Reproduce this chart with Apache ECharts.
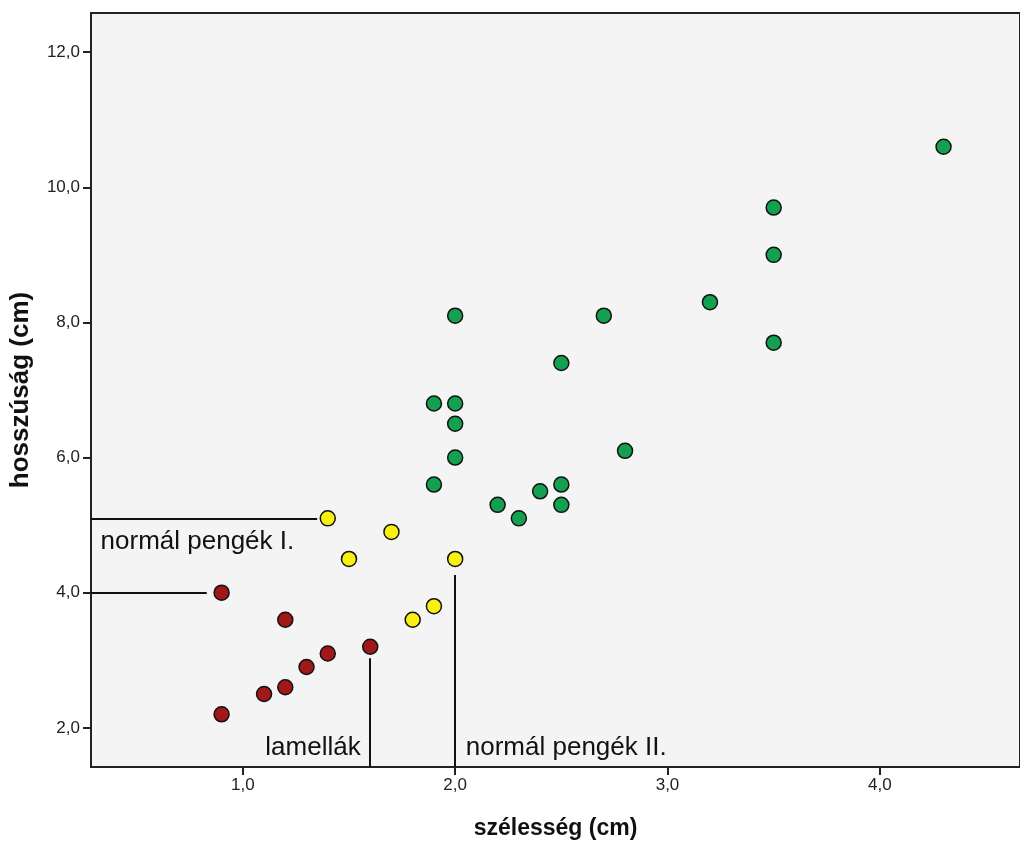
<!DOCTYPE html>
<html>
<head>
<meta charset="utf-8">
<script src="https://cdn.jsdelivr.net/npm/echarts@6/dist/echarts.min.js"></script>
<style>
  html, body { margin: 0; padding: 0; background: #fff; }
  #chart { width: 1020px; height: 846px; }
</style>
</head>
<body>
<div id="chart"></div>
<script>
// lamellák (red)
var lamellak = [[0.9, 4.0], [1.2, 3.6], [1.6, 3.2], [1.4, 3.1], [1.3, 2.9], [1.2, 2.6], [1.1, 2.5], [0.9, 2.2]];
// normál pengék I. (yellow)
var pengekI = [[1.4, 5.1], [1.7, 4.9], [1.5, 4.5], [2.0, 4.5], [1.9, 3.8], [1.8, 3.6]];
// normál pengék II. (green)
var pengekII = [[1.9, 5.6], [2.0, 8.1], [1.9, 6.8], [2.0, 6.8], [2.0, 6.5], [2.0, 6.0], [2.2, 5.3], [2.3, 5.1],
    [2.4, 5.5], [2.5, 5.6], [2.5, 5.3], [2.5, 7.4], [2.7, 8.1], [2.8, 6.1], [3.2, 8.3], [3.5, 9.7],
    [3.5, 9.0], [3.5, 7.7], [4.3, 10.6]];

var xTicks = [1, 2, 3, 4];
var yTicks = [2, 4, 6, 8, 10, 12];
var xMin = 0.285, xMax = 4.66;
var yMin = 1.42, yMax = 12.58;

// annotation leader lines: [from, to]
var leaderLines = [
    [[xMin, 5.1], [1.35, 5.1]],
    [[xMin, 4.0], [0.83, 4.0]],
    [[1.6, yMin], [1.6, 3.03]],
    [[2.0, yMin], [2.0, 4.26]]
];
// annotation texts: [x, y, text, align]
var notes = [
    [0.33, 4.75, 'normál pengék I.', 'left'],
    [1.555, 1.7, 'lamellák', 'right'],
    [2.05, 1.7, 'normál pengék II.', 'left']
];

var fmt = function(v) { return v.toFixed(1).replace('.', ','); };
var font = 'Liberation Sans, Arial, sans-serif';

function dots(data, color) {
    return {
        type: 'scatter',
        data: data,
        symbolSize: 15,
        itemStyle: { color: color, borderColor: '#111', borderWidth: 1.5, opacity: 1 },
        z: 3
    };
}

var myChart = echarts.init(document.getElementById('chart'));
myChart.setOption({
    animation: false,
    grid: {
        left: 90, top: 13, right: -3, bottom: 79,
        show: true,
        backgroundColor: '#f4f4f4',
        borderColor: '#222',
        borderWidth: 2
    },
    xAxis: {
        type: 'value',
        min: xMin, max: xMax,
        name: 'szélesség (cm)',
        nameLocation: 'middle',
        nameGap: 50,
        nameTextStyle: { fontFamily: font, fontSize: 23, fontWeight: 'bold', color: '#111' },
        axisLine: { lineStyle: { color: '#222', width: 2 } },
        axisTick: { show: true, customValues: xTicks, length: 8, lineStyle: { color: '#222', width: 2 } },
        axisLabel: { customValues: xTicks, formatter: fmt, margin: 10, fontFamily: font, fontSize: 17, color: '#222' },
        splitLine: { show: false }
    },
    yAxis: {
        type: 'value',
        min: yMin, max: yMax,
        name: 'hosszúság (cm)',
        nameLocation: 'middle',
        nameGap: 57,
        nameTextStyle: { fontFamily: font, fontSize: 26, fontWeight: 'bold', color: '#111' },
        axisLine: { show: true, lineStyle: { color: '#222', width: 2 } },
        axisTick: { show: true, customValues: yTicks, length: 8, lineStyle: { color: '#222', width: 2 } },
        axisLabel: { customValues: yTicks, formatter: fmt, margin: 11, fontFamily: font, fontSize: 17, color: '#222' },
        splitLine: { show: false }
    },
    series: [
        dots(lamellak, '#a01818'),
        dots(pengekI, '#f8f010'),
        dots(pengekII, '#13a050'),
        {
            type: 'scatter',
            data: notes.map(function(n) { return { value: [n[0], n[1]], label: { align: n[3] } }; }),
            symbolSize: 0,
            silent: true,
            itemStyle: { opacity: 1 },
            label: {
                show: true,
                position: 'inside',
                formatter: function(p) { return notes[p.dataIndex][2]; },
                fontFamily: font,
                fontSize: 26,
                color: '#111'
            },
            markLine: {
                silent: true,
                symbol: 'none',
                label: { show: false },
                lineStyle: { color: '#111', width: 2, type: 'solid', opacity: 1 },
                data: leaderLines.map(function(l) {
                    return [{ coord: l[0] }, { coord: l[1] }];
                })
            }
        }
    ]
});
</script>
</body>
</html>
